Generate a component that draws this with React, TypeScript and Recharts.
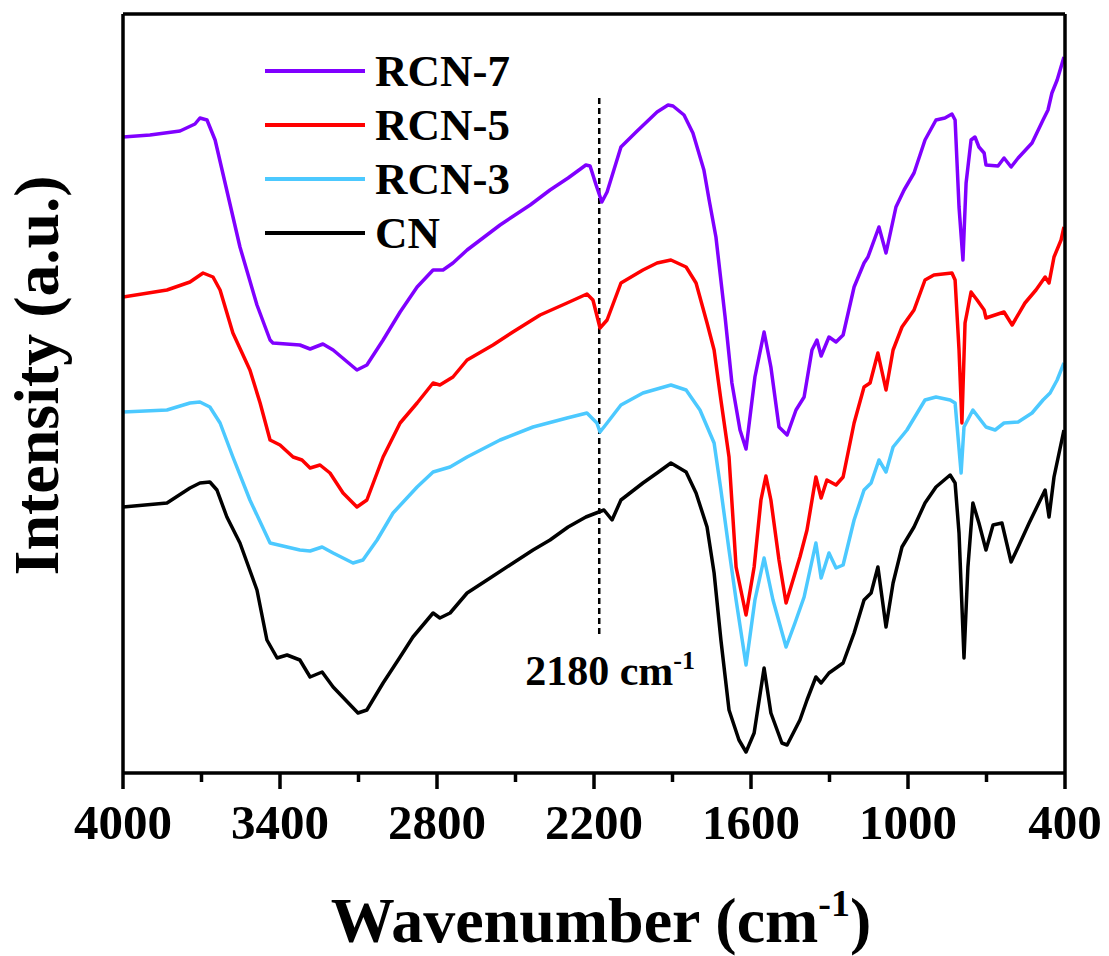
import React from 'react';
import { LineChart, Line, XAxis, YAxis, Label, ReferenceLine, ReferenceDot } from 'recharts';

const FONT = '"Liberation Serif", "Times New Roman", serif';

// wavenumber (cm-1) / intensity (a.u.)
const waveRCN7 = [4000, 3897, 3782, 3725, 3706, 3679, 3648, 3553, 3488, 3438, 3427, 3324, 3285, 3236, 3197, 3106, 3068, 3006, 2941, 2876, 2815, 2777, 2739, 2685, 2559, 2444, 2368, 2299, 2231, 2215, 2192, 2170, 2150, 2097, 2039, 1959, 1917, 1898, 1856, 1822, 1780, 1760, 1734, 1699, 1673, 1642, 1619, 1585, 1550, 1524, 1493, 1462, 1428, 1397, 1367, 1348, 1332, 1302, 1275, 1248, 1206, 1168, 1153, 1111, 1084, 1046, 1015, 977, 935, 893, 859, 832, 820, 805, 790, 778, 759, 744, 729, 709, 702, 656, 633, 606, 579, 526, 484, 465, 450, 430, 404];
const intRCN7 = [63.6, 63.8, 64.2, 64.9, 65.5, 65.3, 63.3, 52.6, 46.8, 43.3, 43.0, 42.8, 42.4, 42.9, 42.3, 40.3, 40.8, 43.3, 46.1, 48.6, 50.3, 50.3, 51.0, 52.3, 54.8, 56.8, 58.3, 59.5, 60.8, 60.7, 58.8, 57.1, 58.1, 62.6, 64.1, 66.1, 66.8, 66.7, 65.8, 64.0, 60.3, 57.3, 53.6, 45.6, 39.0, 34.3, 32.4, 39.6, 44.1, 40.6, 34.6, 33.8, 36.3, 37.6, 42.3, 43.3, 41.7, 43.6, 43.1, 43.8, 48.6, 51.0, 51.6, 54.6, 52.0, 56.6, 58.3, 60.0, 63.3, 65.3, 65.5, 65.9, 65.3, 56.6, 51.3, 59.0, 63.3, 63.6, 62.6, 62.0, 60.8, 60.7, 61.5, 60.6, 61.5, 63.0, 65.3, 66.3, 68.0, 69.3, 71.6];

const waveRCN5 = [4000, 3832, 3744, 3694, 3656, 3629, 3580, 3515, 3476, 3438, 3400, 3350, 3316, 3285, 3247, 3209, 3159, 3106, 3068, 3006, 2941, 2876, 2815, 2789, 2739, 2685, 2586, 2510, 2406, 2303, 2227, 2204, 2177, 2150, 2097, 2013, 1959, 1906, 1848, 1810, 1768, 1741, 1715, 1684, 1657, 1619, 1588, 1562, 1543, 1524, 1493, 1466, 1413, 1386, 1352, 1332, 1310, 1275, 1248, 1206, 1168, 1145, 1115, 1084, 1057, 1023, 977, 935, 901, 832, 820, 805, 794, 782, 759, 736, 709, 702, 633, 602, 553, 511, 476, 461, 442, 415, 404];
const intRCN5 = [47.6, 48.3, 49.1, 50.0, 49.6, 48.3, 44.0, 40.3, 37.0, 33.3, 32.8, 31.6, 31.3, 30.5, 30.8, 30.0, 28.0, 26.6, 27.3, 31.6, 35.0, 37.0, 39.0, 38.8, 39.6, 41.3, 42.8, 44.1, 45.8, 47.0, 47.9, 47.3, 44.5, 45.3, 49.0, 50.3, 51.0, 51.3, 50.6, 49.0, 45.0, 42.3, 37.3, 31.6, 20.6, 15.8, 20.6, 27.3, 29.7, 27.3, 21.3, 17.0, 21.6, 24.3, 29.6, 27.5, 29.3, 28.8, 29.6, 35.0, 38.6, 39.0, 42.0, 38.3, 42.3, 44.6, 46.3, 49.3, 49.8, 50.0, 49.3, 42.3, 35.0, 45.0, 48.1, 47.3, 46.3, 45.5, 46.1, 44.8, 47.0, 48.3, 49.6, 49.0, 51.6, 53.3, 54.6];

const waveRCN3 = [4000, 3832, 3744, 3706, 3668, 3629, 3580, 3515, 3438, 3324, 3285, 3239, 3197, 3121, 3083, 3029, 2968, 2876, 2815, 2750, 2685, 2559, 2433, 2303, 2227, 2189, 2177, 2150, 2097, 2013, 1906, 1848, 1795, 1741, 1715, 1684, 1657, 1619, 1585, 1550, 1516, 1466, 1432, 1397, 1352, 1332, 1302, 1275, 1248, 1206, 1168, 1141, 1111, 1084, 1057, 1004, 935, 893, 839, 820, 797, 786, 752, 702, 667, 633, 579, 526, 484, 457, 430, 404];
const intRCN3 = [36.1, 36.3, 37.0, 37.1, 36.6, 35.0, 31.6, 27.3, 23.0, 22.3, 22.2, 22.6, 22.0, 21.0, 21.3, 23.3, 26.0, 28.6, 30.1, 30.6, 31.6, 33.3, 34.6, 35.5, 36.0, 35.0, 34.1, 35.0, 36.8, 38.0, 38.8, 38.3, 36.3, 33.0, 28.3, 22.3, 17.3, 10.8, 17.3, 21.5, 17.3, 12.6, 15.0, 17.6, 23.0, 19.5, 22.0, 20.5, 20.8, 25.3, 28.3, 29.0, 31.3, 30.1, 32.6, 34.3, 37.3, 37.6, 37.3, 37.0, 30.0, 34.6, 36.3, 34.6, 34.3, 35.0, 35.1, 36.0, 37.3, 38.0, 39.3, 41.0];

const waveCN = [4000, 3832, 3744, 3706, 3668, 3641, 3603, 3553, 3488, 3450, 3411, 3373, 3324, 3285, 3239, 3197, 3102, 3068, 3006, 2941, 2892, 2815, 2789, 2750, 2685, 2597, 2521, 2433, 2368, 2299, 2231, 2162, 2131, 2097, 2013, 1959, 1906, 1848, 1810, 1768, 1741, 1715, 1684, 1646, 1619, 1588, 1550, 1524, 1482, 1462, 1413, 1386, 1352, 1332, 1302, 1248, 1206, 1168, 1141, 1115, 1084, 1057, 1023, 977, 935, 893, 839, 820, 805, 786, 771, 752, 729, 702, 675, 641, 606, 579, 537, 476, 461, 442, 404];
const intCN = [26.6, 27.0, 28.5, 29.0, 29.1, 28.3, 25.6, 23.0, 18.3, 13.3, 11.5, 11.8, 11.3, 9.6, 10.1, 8.6, 6.0, 6.3, 9.0, 11.6, 13.6, 16.0, 15.5, 16.0, 18.0, 19.5, 20.8, 22.3, 23.3, 24.6, 25.6, 26.3, 25.3, 27.3, 29.0, 30.0, 31.0, 30.1, 28.0, 24.6, 20.0, 13.3, 6.3, 3.3, 2.1, 4.0, 10.5, 6.0, 3.0, 2.8, 5.3, 7.3, 9.6, 9.0, 10.0, 11.0, 14.0, 17.3, 18.0, 20.6, 14.6, 19.0, 22.6, 24.6, 27.0, 28.6, 29.8, 29.0, 24.0, 11.5, 20.6, 27.0, 25.0, 22.3, 24.8, 25.0, 21.1, 22.6, 25.0, 28.3, 25.6, 29.6, 34.3];

const xTicks = [4000, 3700, 3400, 3100, 2800, 2500, 2200, 1900, 1600, 1300, 1000, 700, 400];
const majorTicks = [4000, 3400, 2800, 2200, 1600, 1000, 400];

const series = [
  { name: 'RCN-7', color: '#8000ff', wave: waveRCN7, values: intRCN7 },
  { name: 'RCN-5', color: '#ff0000', wave: waveRCN5, values: intRCN5 },
  { name: 'RCN-3', color: '#4cc9ff', wave: waveRCN3, values: intRCN3 },
  { name: 'CN', color: '#000000', wave: waveCN, values: intCN },
];

const toRows = (wave: number[], values: number[]) => wave.map((w, i) => ({ w, y: values[i] }));

const frame = { stroke: '#000', strokeWidth: 3.5 };

const WaveTick = (props: any) => {
  const { x, y, payload } = props;
  const major = majorTicks.includes(payload.value);
  return (
    <g>
      <line x1={x} x2={x} y1={y} y2={y + (major ? 16 : 9)} stroke="#000" strokeWidth={3.5} />
      {major && (
        <text x={x} y={y + 66} textAnchor="middle" fontSize={49} fontWeight="bold" fontFamily={FONT} fill="#000">
          {payload.value}
        </text>
      )}
    </g>
  );
};

const App: React.FC = () => {
  return (
    <div style={{ position: 'absolute', left: 0, top: 0, width: 1109, height: 956, background: '#fff' }}>
      <LineChart width={1109} height={956} margin={{ top: 13, right: 43, bottom: 123, left: 122 }}>
        <XAxis
          type="number"
          dataKey="w"
          domain={[400, 4000]}
          reversed
          allowDataOverflow
          ticks={xTicks}
          interval={0}
          tick={<WaveTick />}
          tickLine={false}
          tickSize={0}
          tickMargin={0}
          height={60}
          axisLine={frame}
        >
          <Label
            content={(p: any) => {
              const vb = p.viewBox;
              return (
                <text x={vb.x + vb.width / 2 + 7} y={vb.y + 169} textAnchor="middle" fontSize={64} fontWeight="bold" fontFamily={FONT} fill="#000">
                  Wavenumber (cm<tspan dy={-26} fontSize={38}>-1</tspan><tspan dy={26}>)</tspan>
                </text>
              );
            }}
          />
        </XAxis>
        <XAxis xAxisId="top" orientation="top" type="number" domain={[400, 4000]} reversed height={1} tick={false} tickLine={false} axisLine={frame} />
        <YAxis type="number" domain={[0, 75.9]} width={1} tick={false} tickLine={false} axisLine={frame}>
          <Label
            content={(p: any) => {
              const vb = p.viewBox;
              const cx = vb.x + vb.width - 65;
              const cy = vb.y + vb.height / 2 - 18;
              return (
                <text x={cx} y={cy} transform={`rotate(-90, ${cx}, ${cy})`} textAnchor="middle" fontSize={64} fontWeight="bold" fontFamily={FONT} fill="#000">
                  Intensity (a.u.)
                </text>
              );
            }}
          />
        </YAxis>
        <YAxis yAxisId="right" orientation="right" type="number" domain={[0, 75.9]} width={1} tick={false} tickLine={false} axisLine={frame} />
        <ReferenceLine
          segment={[{ x: 2180, y: 67.5 }, { x: 2180, y: 13.8 }]}
          stroke="#000"
          strokeWidth={2.5}
          strokeDasharray="6 4"
        />
        <ReferenceDot
          x={2180}
          y={8.8}
          r={0}
          shape={(p: any) => (
            <text x={p.cx - 74} y={p.cy} fontSize={42} fontWeight="bold" fontFamily={FONT} fill="#000">
              2180 cm<tspan dy={-16} fontSize={26}>-1</tspan>
            </text>
          )}
        />
        {series.map((s) => (
          <Line
            key={s.name}
            name={s.name}
            data={toRows(s.wave, s.values)}
            dataKey="y"
            type="linear"
            stroke={s.color}
            strokeWidth={3.5}
            strokeLinejoin="round"
            dot={false}
            isAnimationActive={false}
          />
        ))}
      </LineChart>
      {/* legend, top left inside the frame */}
      <div style={{ position: 'absolute', left: 265, top: 44, display: 'flex', flexDirection: 'column' }}>
        {series.map((s) => (
          <div key={s.name} style={{ height: 54, display: 'flex', alignItems: 'center' }}>
            <div style={{ width: 100, height: 4, background: s.color }} />
            <span style={{ marginLeft: 10, fontSize: 45, fontWeight: 'bold', fontFamily: FONT, lineHeight: '54px', color: '#000' }}>
              {s.name}
            </span>
          </div>
        ))}
      </div>
    </div>
  );
};

export default App;
